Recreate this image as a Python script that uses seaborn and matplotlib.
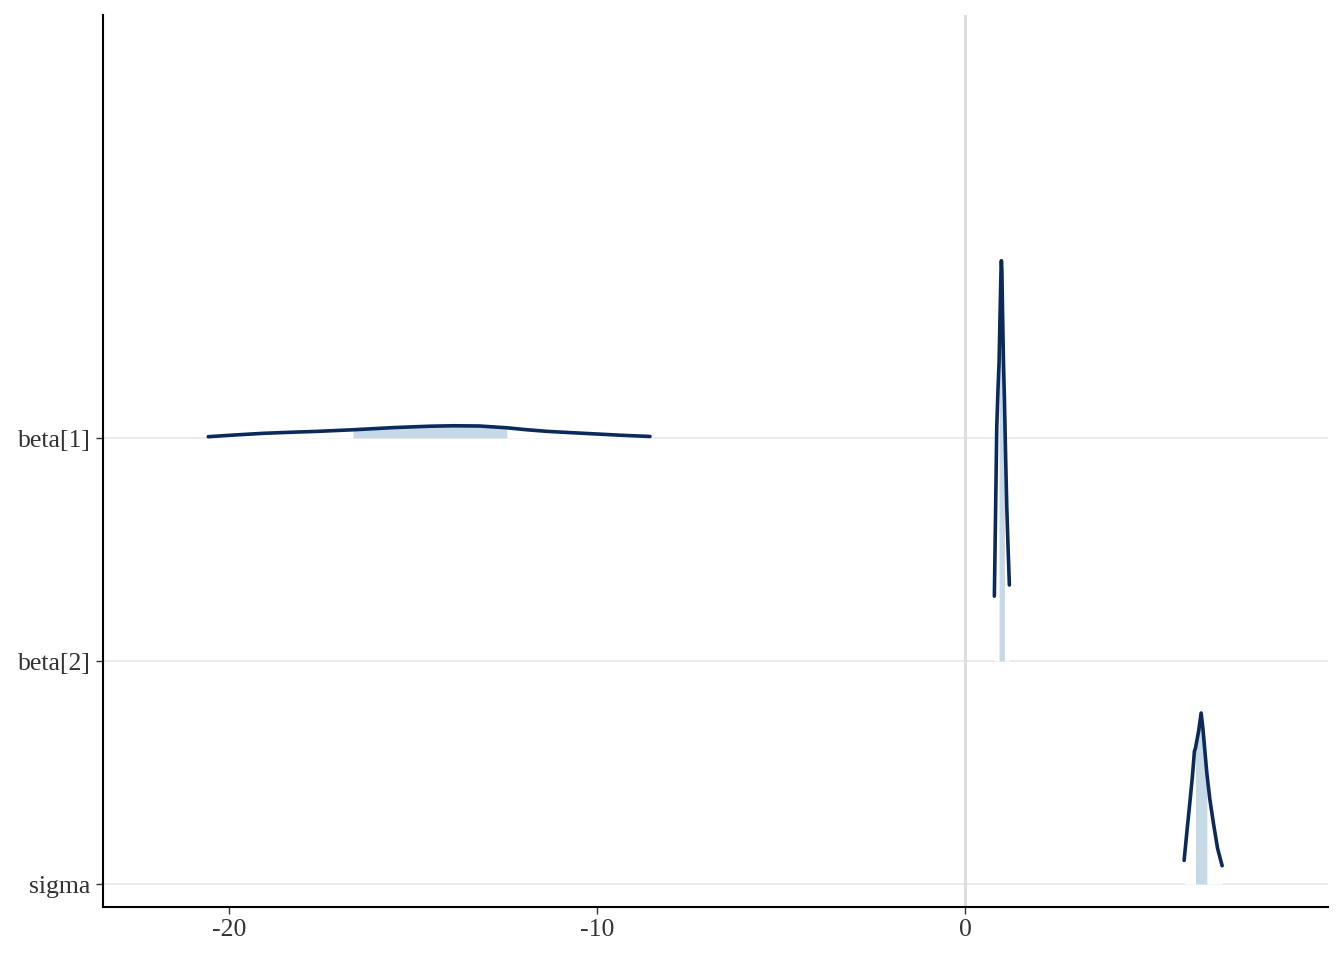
import numpy as np
import matplotlib
matplotlib.use("Agg")
import matplotlib.pyplot as plt
import seaborn as sns

# parameter rows (top to bottom) and their baseline positions
params = ["beta[1]", "beta[2]", "sigma"]
row_pos = [3, 2, 1]

# density outlines: x value, height above the row baseline
beta1_x = [-20.56, -19.8, -19.08, -18.3, -17.58, -16.63, -15.5, -14.54, -13.9,
           -13.2, -12.45, -11.9, -11.36, -10.7, -10.11, -9.3, -8.56]
beta1_h = [0.006, 0.014, 0.021, 0.026, 0.030, 0.037, 0.047, 0.053, 0.055,
           0.054, 0.046, 0.037, 0.030, 0.024, 0.019, 0.012, 0.007]
beta2_x = [0.796, 0.83, 0.861, 0.895, 0.924, 0.95, 0.975, 0.987, 1.0, 1.02,
           1.045, 1.068, 1.1, 1.133, 1.17, 1.204]
beta2_h = [0.291, 0.68, 1.051, 1.22, 1.34, 1.55, 1.74, 1.795, 1.75, 1.55,
           1.33, 1.185, 0.93, 0.692, 0.5, 0.341]
sigma_x = [5.951, 6.03, 6.114, 6.18, 6.231, 6.26, 6.35, 6.413, 6.46, 6.5,
           6.568, 6.65, 6.747, 6.86, 6.984]
sigma_h = [0.106, 0.24, 0.377, 0.49, 0.595, 0.61, 0.69, 0.767, 0.70, 0.625,
           0.498, 0.38, 0.273, 0.16, 0.082]

# inner (50%) intervals
inner_lo = [-16.63, 0.924, 6.26]
inner_hi = [-12.45, 1.068, 6.568]

curves_x = [beta1_x, beta2_x, sigma_x]
curves_h = [beta1_h, beta2_h, sigma_h]

line_col = "#0b2a5b"
fill_col = "#c6d9e7"
grid_col = "#e5e5e5"

sns.set_style("white")
plt.rcParams["font.family"] = ["Liberation Serif", "DejaVu Serif"]

fig = plt.figure(figsize=(13.44, 9.6), dpi=100)
ax = fig.add_axes([103 / 1344, 53 / 960, 1225 / 1344, 892 / 960])

for y in row_pos:
    ax.axhline(y, color=grid_col, lw=1.1, zorder=0)
ax.axvline(0, color="#dedede", lw=2.2, zorder=0.5)

for i, name in enumerate(params):
    base = row_pos[i]
    x = np.array(curves_x[i])
    top = base + np.array(curves_h[i])
    ax.fill_between(x, base, top, color="white", lw=0, zorder=1 + i)
    mask = (x >= inner_lo[i] - 1e-9) & (x <= inner_hi[i] + 1e-9)
    ax.fill_between(x[mask], base, top[mask], color=fill_col, lw=0, zorder=1.1 + i)
    sns.lineplot(x=x, y=top, sort=False, estimator=None, color=line_col,
                 lw=2.6, ax=ax, zorder=1.2 + i)

ax.set_xlim(-23.42, 9.86)
ax.set_ylim(0.897, 4.897)
ax.set_xticks([-20, -10, 0])
ax.set_xticklabels(["-20", "-10", "0"])
ax.set_yticks(row_pos)
ax.set_yticklabels(params)
ax.set_xlabel("")
ax.set_ylabel("")

for side in ["top", "right"]:
    ax.spines[side].set_visible(False)
for side in ["left", "bottom"]:
    ax.spines[side].set_color("black")
    ax.spines[side].set_linewidth(1.5)

ax.tick_params(axis="both", which="major", length=5, width=1, color="#333333",
               labelsize=18.5, labelcolor="#333333", pad=4, left=True, bottom=True)

fig.savefig("out.png", dpi=100)
